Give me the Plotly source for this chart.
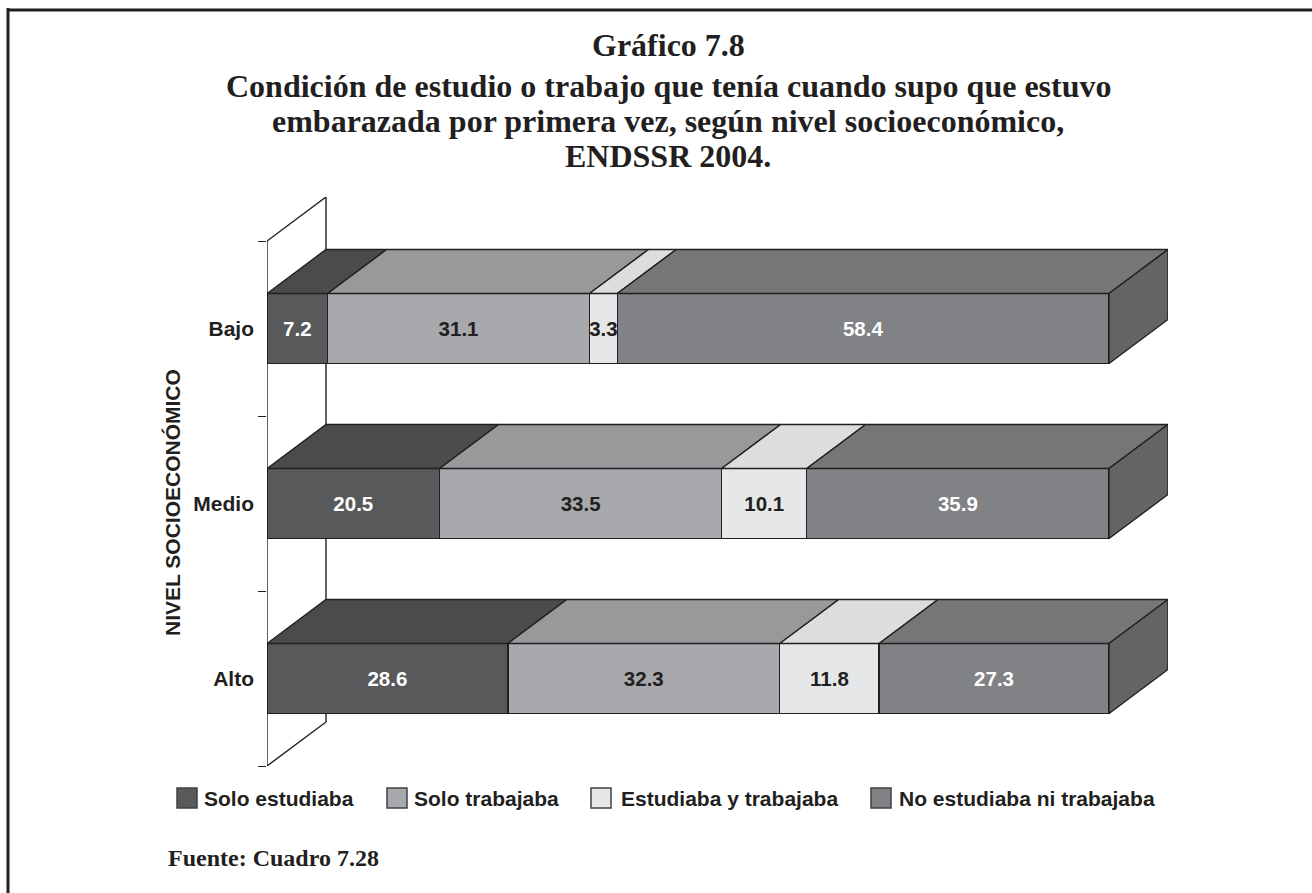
import plotly.graph_objects as go

categories = ["Alto", "Medio", "Bajo"]
series_names = ["Solo estudiaba", "Solo trabajaba", "Estudiaba y trabajaba", "No estudiaba ni trabajaba"]
solo_estudiaba = [28.6, 20.5, 7.2]
solo_trabajaba = [32.3, 33.5, 31.1]
estudiaba_y_trabajaba = [11.8, 10.1, 3.3]
no_estudiaba = [27.3, 35.9, 58.4]
series_values = [solo_estudiaba, solo_trabajaba, estudiaba_y_trabajaba, no_estudiaba]

front_colors = ["#58595b", "#a7a9ac", "#e6e7e8", "#808285"]
top_colors = ["#4b4b4d", "#97999b", "#dcddde", "#757678"]
text_colors = ["white", "#231f20", "#231f20", "white"]
side_color = "#636466"
ink = "#231f20"

W, H = 1312, 893
PX0, PX100 = 267.0, 1109.0      # pixel position of 0 % and 100 %
DX_PX, DY_PX = 59.0, 44.0       # oblique depth in pixels
BAND_PX = 175.0
Y_BOTTOM_PX = 766.0
BAR_W = 0.4

unit_x = (PX100 - PX0) / 100
dx = DX_PX / unit_x
dy = DY_PX / BAND_PX
x_max = 100 + dx
y_pos = list(range(len(categories)))
boundaries = [p - 0.5 for p in y_pos] + [y_pos[-1] + 0.5]
y_min, y_max = boundaries[0], boundaries[-1] + dy

SANS = "Liberation Sans"
SERIF = "Liberation Serif"
LW = 1.4

fig = go.Figure()

# front faces
for i, name in enumerate(series_names):
    fig.add_trace(go.Bar(
        y=y_pos, x=series_values[i], orientation="h", width=BAR_W, name=name, showlegend=False,
        marker=dict(color=front_colors[i], line=dict(color=ink, width=LW)),
        text=[f"{v:.1f}" for v in series_values[i]], textposition="inside", insidetextanchor="middle",
        textangle=0, constraintext="none", cliponaxis=False,
        textfont=dict(family=SANS, size=20.5, color=text_colors[i], weight="bold"),
        hoverinfo="skip",
    ))

# top faces and side faces, derived from the data
for ci in y_pos:
    start = 0.0
    top = ci + BAR_W / 2
    for i in range(len(series_names)):
        end = start + series_values[i][ci]
        fig.add_trace(go.Scatter(
            x=[start, end, end + dx, start + dx, start],
            y=[top, top, top + dy, top + dy, top],
            mode="lines", fill="toself", fillcolor=top_colors[i],
            line=dict(color=ink, width=LW), showlegend=False, hoverinfo="skip",
        ))
        start = end
    fig.add_trace(go.Scatter(
        x=[start, start + dx, start + dx, start, start],
        y=[top, top + dy, top + dy - BAR_W, top - BAR_W, top],
        mode="lines", fill="toself", fillcolor=side_color,
        line=dict(color=ink, width=LW), showlegend=False, hoverinfo="skip",
    ))

# legend entries (one legend per entry so each can be placed on its own)
legend_x_px = [164, 374, 581, 859]
swatch_x_px = [177, 387, 591, 871]
SWATCH_PX = 20
LEGEND_Y_PX = 798
legends = {}
swatches = []
for i, name in enumerate(series_names):
    key = "legend" if i == 0 else f"legend{i + 1}"
    fig.add_trace(go.Scatter(
        x=[None], y=[None], mode="markers", name=name, legend=key, hoverinfo="skip",
        marker=dict(symbol="square", size=8, color=front_colors[i], line=dict(width=0)),
    ))
    legends[key] = dict(
        x=legend_x_px[i] / W, y=1 - LEGEND_Y_PX / H, xanchor="left", yanchor="middle",
        orientation="h", bgcolor="rgba(0,0,0,0)", itemclick=False, itemdoubleclick=False,
        font=dict(family=SANS, size=21, color=ink, weight="bold"), itemwidth=30,
    )
    # full-size swatch behind the legend's own marker
    swatches.append(dict(
        type="rect", xref="paper", yref="paper",
        x0=swatch_x_px[i] / W, x1=(swatch_x_px[i] + SWATCH_PX) / W,
        y0=1 - (LEGEND_Y_PX - SWATCH_PX / 2) / H, y1=1 - (LEGEND_Y_PX + SWATCH_PX / 2) / H,
        fillcolor=front_colors[i], line=dict(color="#414042", width=1.5), layer="above",
    ))

# walls of the 3-D frame, behind the bars
low, high = boundaries[0], boundaries[-1]
wall_x = [0, 0, dx, dx, 0]
wall_y = [low, high, high + dy, low + dy, low]
wall_shapes = [
    dict(type="line", xref="x", yref="y", x0=wall_x[k], x1=wall_x[k + 1], y0=wall_y[k], y1=wall_y[k + 1],
         line=dict(color=ink, width=LW), layer="below")
    for k in range(4)
]
border = [
    dict(type="line", xref="paper", yref="paper", x0=8 / W, x1=8 / W, y0=1 - 8 / H, y1=0,
         line=dict(color=ink, width=3), layer="below"),
    dict(type="line", xref="paper", yref="paper", x0=7 / W, x1=1, y0=1 - 10 / H, y1=1 - 10 / H,
         line=dict(color=ink, width=3), layer="below"),
]


def serif_line(text, y_px, size=32, x_px=668, anchor="center"):
    return dict(text=text, x=x_px / W, y=1 - y_px / H, xref="paper", yref="paper", showarrow=False,
                xanchor=anchor, yanchor="middle", font=dict(family=SERIF, size=size, color=ink, weight="bold"))


annotations = [
    serif_line("Gráfico 7.8", 45),
    serif_line("Condición de estudio o trabajo que tenía cuando supo que estuvo", 86),
    serif_line("embarazada por primera vez, según nivel socioeconómico,", 121),
    serif_line("ENDSSR 2004.", 156),
    dict(text="NIVEL SOCIOECONÓMICO", x=172 / W, y=1 - 503 / H, xref="paper", yref="paper", showarrow=False,
         xanchor="center", yanchor="middle", textangle=-90,
         font=dict(family=SANS, size=21, color=ink, weight="bold")),
    serif_line("Fuente: Cuadro 7.28", 858, size=24, x_px=166, anchor="left"),
]

plot_top_px = Y_BOTTOM_PX - BAND_PX * (y_max - y_min)
layout_kwargs = dict(
    width=W, height=H, margin=dict(l=0, r=0, t=0, b=0), autosize=False,
    paper_bgcolor="white", plot_bgcolor="rgba(0,0,0,0)", barmode="stack",
    shapes=wall_shapes + border + swatches, annotations=annotations,
    xaxis=dict(domain=[PX0 / W, (PX100 + DX_PX) / W], range=[0, x_max], visible=False, fixedrange=True),
    yaxis=dict(domain=[1 - Y_BOTTOM_PX / H, 1 - plot_top_px / H], range=[y_min, y_max],
               tickmode="array", tickvals=y_pos, ticktext=categories, ticks="",
               minor=dict(tickmode="array", tickvals=boundaries, ticks="outside", ticklen=8,
                          tickcolor=ink, tickwidth=LW, showgrid=False),
               showline=False, showgrid=False, zeroline=False, ticklabelstandoff=12,
               anchor="x", fixedrange=True,
               tickfont=dict(family=SANS, size=21, color=ink, weight="bold")),
    font=dict(family=SANS, color=ink),
)
layout_kwargs.update(legends)
fig.update_layout(**layout_kwargs)

fig.write_html("out.html", post_script="document.body.style.margin='0';", config=dict(displayModeBar=False))
